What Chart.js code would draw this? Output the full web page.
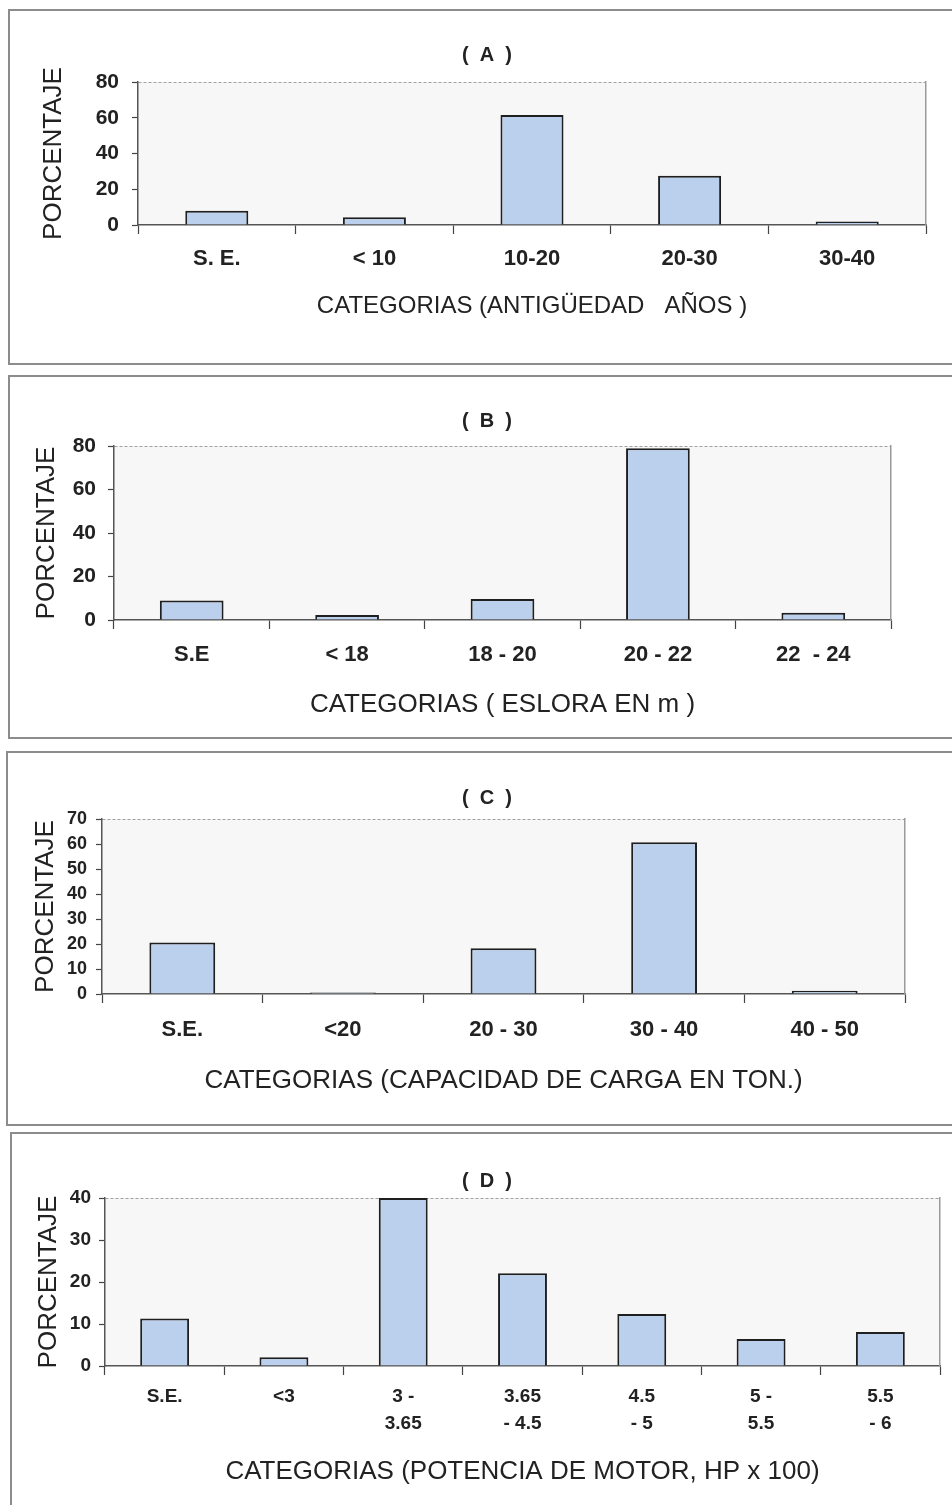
<!DOCTYPE html>
<html>
<head>
<meta charset="utf-8">
<script src="https://cdn.jsdelivr.net/npm/chart.js@4.4.1/dist/chart.umd.min.js"></script>
<style>
  html, body { margin: 0; padding: 0; background: #fff; overflow: hidden; }
  body { position: relative; width: 952px; height: 1505px; }
  .box { position: absolute; border: 2px solid #8c8c8c; box-sizing: border-box; }
  canvas { position: absolute; }
</style>
</head>
<body>
<div class="box" style="left:8px; top:9px; width:1000px; height:356px;"></div>
<div class="box" style="left:8px; top:375px; width:1000px; height:364px;"></div>
<div class="box" style="left:6px; top:751px; width:1000px; height:375px;"></div>
<div class="box" style="left:10px; top:1132px; width:1000px; height:400px;"></div>

<canvas id="chartA" width="956" height="354" style="left:9px; top:10px;"></canvas>
<canvas id="chartB" width="956" height="362" style="left:9px; top:376px;"></canvas>
<canvas id="chartC" width="960" height="373" style="left:7px; top:752px;"></canvas>
<canvas id="chartD" width="952" height="380" style="left:11px; top:1133px;"></canvas>

<script>
// --- data ---
const catsA = ['S. E.', '< 10', '10-20', '20-30', '30-40'];
const valsA = [8, 4.3, 61.5, 27.5, 2];

const catsB = ['S.E', '< 18', '18 - 20', '20 - 22', '22  - 24'];
const valsB = [9, 2.3, 9.7, 79, 3.3];

const catsC = ['S.E.', '<20', '20 - 30', '30 - 40', '40 - 50'];
const valsC = [20.6, 0.6, 18.3, 60.7, 1.3];

const catsD = ['S.E.', '<3', ['3 -', '3.65'], ['3.65', '- 4.5'], ['4.5', '- 5'], ['5 -', '5.5'], ['5.5', '- 6']];
const valsD = [11.3, 2.1, 40, 22.1, 12.4, 6.4, 8.1];

const titles = ['(  A  )', '(  B  )', '(  C  )', '(  D  )'];
const xTitles = [
    'CATEGORIAS (ANTIGÜEDAD   AÑOS )',
    'CATEGORIAS ( ESLORA EN m )',
    'CATEGORIAS (CAPACIDAD DE CARGA EN TON.)',
    'CATEGORIAS (POTENCIA DE MOTOR, HP x 100)'
];
const yTitle = 'PORCENTAJE';

const FONT = "'Liberation Sans', Arial, sans-serif";
const TEXT = '#222';

// fondo gris claro del area de trazado
const plotBg = {
    id: 'plotBg',
    beforeDraw(chart) {
        const { ctx, chartArea: a } = chart;
        ctx.save();
        ctx.fillStyle = '#f7f7f7';
        ctx.fillRect(a.left, a.top, a.width, a.height);
        ctx.restore();
    }
};

function makeChart(id, cats, vals, title, xTitle, lay) {
    return new Chart(document.getElementById(id), {
        type: 'bar',
        data: {
            labels: cats,
            datasets: [{
                data: vals,
                backgroundColor: '#bbd0ec',
                borderColor: '#1f1f1f',
                borderWidth: 2,
                categoryPercentage: 1,
                barPercentage: lay.bar
            }]
        },
        options: {
            responsive: false,
            animation: false,
            layout: { padding: 0 },
            plugins: {
                legend: { display: false },
                tooltip: { enabled: false },
                title: {
                    display: true,
                    text: title,
                    color: TEXT,
                    font: { family: FONT, size: 20, weight: 'bold', lineHeight: 1.2 },
                    padding: { top: lay.titleTop, bottom: lay.titleBottom }
                }
            },
            scales: {
                x: {
                    offset: true,
                    grid: { offset: true, drawOnChartArea: false, drawTicks: true, tickLength: 9, tickColor: '#444', tickWidth: 1.2 },
                    border: { display: true, color: '#555', width: 1.5 },
                    ticks: {
                        color: TEXT, autoRotate: false, maxRotation: 0, autoSkip: false,
                        padding: lay.xTickPad,
                        font: { family: FONT, size: lay.xTickSize, weight: 'bold', lineHeight: lay.xTickLh }
                    },
                    title: {
                        display: true, text: xTitle, color: TEXT,
                        font: { family: FONT, size: lay.xTitleSize, weight: 'normal', lineHeight: 1.2 },
                        padding: { top: 0, bottom: lay.xTitlePad }
                    },
                    afterFit: (s) => { s.height = lay.xHeight; }
                },
                y: {
                    min: 0,
                    max: lay.max,
                    ticks: {
                        stepSize: lay.step, color: TEXT, padding: lay.yTickPad,
                        font: { family: FONT, size: lay.yTickSize, weight: 'bold' }
                    },
                    grid: {
                        drawOnChartArea: true, drawTicks: true, tickLength: 6,
                        tickColor: '#444', tickWidth: 1.2,
                        color: (c) => (c.tick && c.tick.value === lay.max) ? '#a0a0a0' : 'rgba(0,0,0,0)'
                    },
                    border: { display: true, color: '#555', width: 1.5, dash: [3, 2] },
                    title: {
                        display: true, text: yTitle, color: TEXT,
                        font: { family: FONT, size: 26, weight: 'normal', lineHeight: 1.2 },
                        padding: { top: lay.yTitlePad, bottom: 0 }
                    },
                    afterFit: (s) => { s.width = lay.yWidth; }
                },
                yR: {
                    position: 'right',
                    display: true,
                    grid: { display: false },
                    border: { display: true, color: '#9a9a9a', width: 1.5 },
                    ticks: { display: false },
                    afterFit: (s) => { s.width = lay.rWidth; }
                }
            }
        },
        plugins: [plotBg]
    });
}

makeChart('chartA', catsA, valsA, titles[0], xTitles[0], {
    bar: 0.4, max: 80, step: 20,
    titleTop: 33, titleBottom: 15,
    yWidth: 129, rWidth: 39, xHeight: 139,
    xTickPad: 12, xTickSize: 22, xTickLh: 1.2,
    xTitleSize: 24, xTitlePad: 43,
    yTickSize: 21, yTickPad: 13, yTitlePad: 29
});

makeChart('chartB', catsB, valsB, titles[1], xTitles[1], {
    bar: 0.41, max: 80, step: 20,
    titleTop: 33, titleBottom: 13,
    yWidth: 105, rWidth: 74, xHeight: 118,
    xTickPad: 13, xTickSize: 22, xTickLh: 1.2,
    xTitleSize: 26, xTitlePad: 18,
    yTickSize: 21, yTickPad: 12, yTitlePad: 22
});

makeChart('chartC', catsC, valsC, titles[2], xTitles[2], {
    bar: 0.41, max: 70, step: 10,
    titleTop: 34, titleBottom: 9,
    yWidth: 95, rWidth: 62, xHeight: 131,
    xTickPad: 14, xTickSize: 22, xTickLh: 1.2,
    xTitleSize: 26, xTitlePad: 29,
    yTickSize: 18, yTickPad: 9, yTitlePad: 23
});

makeChart('chartD', catsD, valsD, titles[3], xTitles[3], {
    bar: 0.41, max: 40, step: 10,
    titleTop: 36, titleBottom: 5,
    yWidth: 94, rWidth: 23, xHeight: 147,
    xTickPad: 8, xTickSize: 19, xTickLh: 1.42,
    xTitleSize: 26, xTitlePad: 26,
    yTickSize: 19, yTickPad: 8, yTitlePad: 22
});
</script>
</body>
</html>
